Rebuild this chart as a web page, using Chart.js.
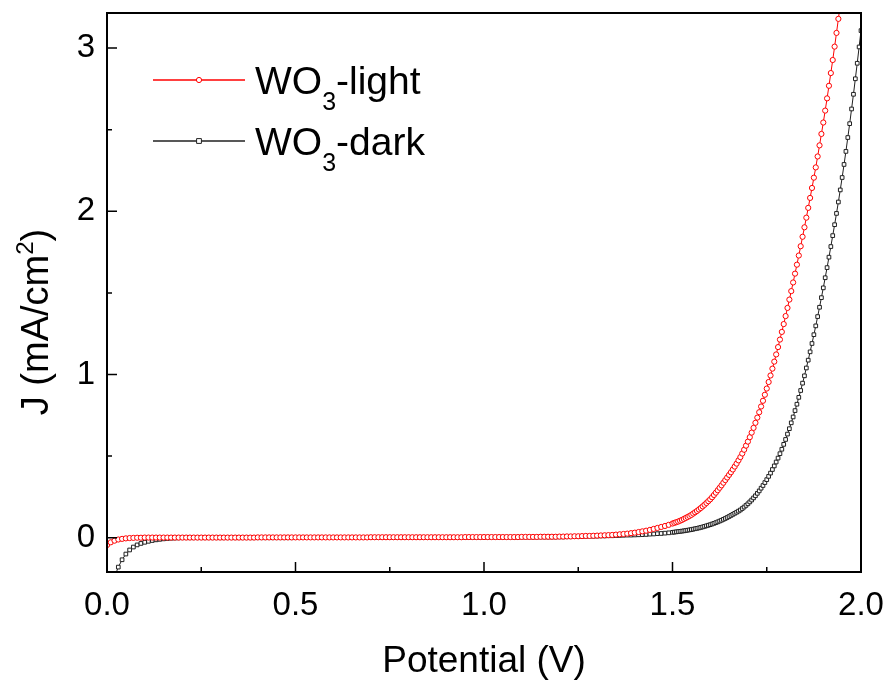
<!DOCTYPE html>
<html>
<head>
<meta charset="utf-8">
<script src="https://cdn.jsdelivr.net/npm/chart.js@4.4.1/dist/chart.umd.min.js"></script>
<style>
  html, body { margin: 0; padding: 0; background: #fff; }
  #wrap { width: 891px; height: 684px; }
</style>
</head>
<body>
<div id="wrap"><canvas id="jv" width="891" height="684"></canvas></div>
<script>
// potential sweep (V): 10 mV steps up to 1.49 V, 5 mV steps after
const potential = [
  0.00, 0.01, 0.02, 0.03, 0.04, 0.05, 0.06, 0.07, 0.08, 0.09,
  0.10, 0.11, 0.12, 0.13, 0.14, 0.15, 0.16, 0.17, 0.18, 0.19,
  0.20, 0.21, 0.22, 0.23, 0.24, 0.25, 0.26, 0.27, 0.28, 0.29,
  0.30, 0.31, 0.32, 0.33, 0.34, 0.35, 0.36, 0.37, 0.38, 0.39,
  0.40, 0.41, 0.42, 0.43, 0.44, 0.45, 0.46, 0.47, 0.48, 0.49,
  0.50, 0.51, 0.52, 0.53, 0.54, 0.55, 0.56, 0.57, 0.58, 0.59,
  0.60, 0.61, 0.62, 0.63, 0.64, 0.65, 0.66, 0.67, 0.68, 0.69,
  0.70, 0.71, 0.72, 0.73, 0.74, 0.75, 0.76, 0.77, 0.78, 0.79,
  0.80, 0.81, 0.82, 0.83, 0.84, 0.85, 0.86, 0.87, 0.88, 0.89,
  0.90, 0.91, 0.92, 0.93, 0.94, 0.95, 0.96, 0.97, 0.98, 0.99,
  1.00, 1.01, 1.02, 1.03, 1.04, 1.05, 1.06, 1.07, 1.08, 1.09,
  1.10, 1.11, 1.12, 1.13, 1.14, 1.15, 1.16, 1.17, 1.18, 1.19,
  1.20, 1.21, 1.22, 1.23, 1.24, 1.25, 1.26, 1.27, 1.28, 1.29,
  1.30, 1.31, 1.32, 1.33, 1.34, 1.35, 1.36, 1.37, 1.38, 1.39,
  1.40, 1.41, 1.42, 1.43, 1.44, 1.45, 1.46, 1.47, 1.48, 1.49,
  1.500, 1.505, 1.510, 1.515, 1.520, 1.525, 1.530, 1.535, 1.540, 1.545,
  1.550, 1.555, 1.560, 1.565, 1.570, 1.575, 1.580, 1.585, 1.590, 1.595,
  1.600, 1.605, 1.610, 1.615, 1.620, 1.625, 1.630, 1.635, 1.640, 1.645,
  1.650, 1.655, 1.660, 1.665, 1.670, 1.675, 1.680, 1.685, 1.690, 1.695,
  1.700, 1.705, 1.710, 1.715, 1.720, 1.725, 1.730, 1.735, 1.740, 1.745,
  1.750, 1.755, 1.760, 1.765, 1.770, 1.775, 1.780, 1.785, 1.790, 1.795,
  1.800, 1.805, 1.810, 1.815, 1.820, 1.825, 1.830, 1.835, 1.840, 1.845,
  1.850, 1.855, 1.860, 1.865, 1.870, 1.875, 1.880, 1.885, 1.890, 1.895,
  1.900, 1.905, 1.910, 1.915, 1.920, 1.925, 1.930, 1.935, 1.940, 1.945,
  1.950, 1.955, 1.960, 1.965, 1.970, 1.975, 1.980, 1.985, 1.990, 1.995,
  2.000
]

// current density under illumination (mA/cm2)
const jLight = [
  -0.045, -0.028, -0.018, -0.011, -0.007, -0.004, -0.002, -0.001, 0.000, 0.000,
  0.001, 0.001, 0.001, 0.001, 0.001, 0.001, 0.001, 0.001, 0.001, 0.001,
  0.001, 0.001, 0.001, 0.001, 0.001, 0.001, 0.001, 0.001, 0.001, 0.001,
  0.001, 0.001, 0.001, 0.001, 0.001, 0.001, 0.001, 0.001, 0.001, 0.001,
  0.002, 0.002, 0.002, 0.002, 0.002, 0.002, 0.002, 0.002, 0.002, 0.002,
  0.002, 0.002, 0.002, 0.002, 0.002, 0.002, 0.002, 0.002, 0.002, 0.002,
  0.002, 0.002, 0.002, 0.002, 0.002, 0.002, 0.002, 0.002, 0.002, 0.002,
  0.003, 0.003, 0.003, 0.003, 0.003, 0.003, 0.003, 0.003, 0.003, 0.003,
  0.003, 0.003, 0.003, 0.003, 0.003, 0.003, 0.003, 0.003, 0.003, 0.003,
  0.003, 0.003, 0.003, 0.003, 0.003, 0.004, 0.004, 0.004, 0.004, 0.004,
  0.004, 0.004, 0.004, 0.004, 0.004, 0.004, 0.004, 0.004, 0.004, 0.004,
  0.005, 0.005, 0.005, 0.005, 0.005, 0.006, 0.006, 0.006, 0.006, 0.006,
  0.007, 0.007, 0.008, 0.008, 0.009, 0.009, 0.010, 0.011, 0.011, 0.012,
  0.013, 0.014, 0.015, 0.016, 0.017, 0.019, 0.021, 0.023, 0.025, 0.028,
  0.031, 0.035, 0.039, 0.043, 0.048, 0.054, 0.060, 0.066, 0.072, 0.079,
  0.087, 0.091, 0.095, 0.099, 0.104, 0.109, 0.115, 0.121, 0.127, 0.133,
  0.140, 0.148, 0.156, 0.164, 0.173, 0.182, 0.192, 0.202, 0.213, 0.224,
  0.235, 0.248, 0.262, 0.276, 0.291, 0.306, 0.321, 0.337, 0.353, 0.369,
  0.385, 0.401, 0.418, 0.436, 0.454, 0.474, 0.494, 0.516, 0.539, 0.564,
  0.589, 0.616, 0.644, 0.673, 0.704, 0.736, 0.769, 0.804, 0.839, 0.876,
  0.914, 0.954, 0.994, 1.036, 1.079, 1.123, 1.168, 1.214, 1.261, 1.309,
  1.358, 1.408, 1.459, 1.511, 1.564, 1.618, 1.673, 1.729, 1.786, 1.844,
  1.902, 1.961, 2.021, 2.082, 2.143, 2.206, 2.269, 2.336, 2.404, 2.474,
  2.544, 2.617, 2.692, 2.769, 2.847, 2.927, 3.009, 3.093, 3.179, 3.266,
  3.354, 3.444, 3.534, 3.626, 3.719, 3.814, 3.909, 4.006, 4.104, 4.202,
  4.300
]

// current density in the dark (mA/cm2)
const jDark = [
  -0.400, -0.320, -0.240, -0.180, -0.135, -0.100, -0.075, -0.057, -0.044, -0.035,
  -0.028, -0.022, -0.017, -0.013, -0.010, -0.007, -0.005, -0.003, -0.002, -0.001,
  0.000, 0.000, 0.000, 0.000, 0.000, 0.000, 0.000, 0.000, 0.000, 0.000,
  0.000, 0.000, 0.000, 0.000, 0.000, 0.000, 0.000, 0.000, 0.000, 0.000,
  0.000, 0.000, 0.000, 0.000, 0.000, 0.000, 0.000, 0.000, 0.000, 0.000,
  0.001, 0.001, 0.001, 0.001, 0.001, 0.001, 0.001, 0.001, 0.001, 0.001,
  0.001, 0.001, 0.001, 0.001, 0.001, 0.001, 0.001, 0.001, 0.001, 0.001,
  0.001, 0.001, 0.001, 0.001, 0.001, 0.001, 0.001, 0.001, 0.001, 0.001,
  0.002, 0.002, 0.002, 0.002, 0.002, 0.002, 0.002, 0.002, 0.002, 0.002,
  0.002, 0.002, 0.002, 0.002, 0.002, 0.002, 0.002, 0.002, 0.002, 0.002,
  0.003, 0.003, 0.003, 0.003, 0.003, 0.003, 0.003, 0.003, 0.003, 0.003,
  0.003, 0.003, 0.003, 0.003, 0.003, 0.004, 0.004, 0.004, 0.004, 0.004,
  0.005, 0.005, 0.006, 0.006, 0.007, 0.007, 0.008, 0.008, 0.009, 0.009,
  0.010, 0.011, 0.011, 0.012, 0.012, 0.013, 0.014, 0.015, 0.016, 0.016,
  0.017, 0.018, 0.019, 0.020, 0.022, 0.023, 0.025, 0.026, 0.028, 0.030,
  0.033, 0.0345, 0.036, 0.0375, 0.039, 0.0405, 0.042, 0.044, 0.046, 0.048,
  0.050, 0.0525, 0.055, 0.0575, 0.060, 0.063, 0.066, 0.0695, 0.073, 0.0765,
  0.080, 0.084, 0.088, 0.0925, 0.097, 0.102, 0.107, 0.1125, 0.118, 0.124,
  0.130, 0.1365, 0.143, 0.1495, 0.156, 0.163, 0.170, 0.179, 0.188, 0.198,
  0.208, 0.2195, 0.231, 0.244, 0.257, 0.272, 0.287, 0.3035, 0.320, 0.338,
  0.356, 0.376, 0.396, 0.418, 0.440, 0.464, 0.488, 0.515, 0.542, 0.572,
  0.602, 0.635, 0.668, 0.704, 0.740, 0.779, 0.818, 0.860, 0.902, 0.947,
  0.992, 1.040, 1.088, 1.139, 1.190, 1.244, 1.298, 1.355, 1.412, 1.471,
  1.531, 1.593, 1.655, 1.719, 1.784, 1.851, 1.918, 1.987, 2.057, 2.131,
  2.207, 2.287, 2.367, 2.452, 2.537, 2.627, 2.717, 2.812, 2.907, 3.007,
  3.107
]

const xMajor = [0, 0.5, 1.0, 1.5, 2.0]
const xMinor = [0.25, 0.75, 1.25, 1.75]
const yMajor = [0, 1, 2, 3]
const yMinor = [0.5, 1.5, 2.5]

const FONT = "'Liberation Sans', Arial, sans-serif"
const RED = '#ff0000'
const DARK = '#202020'

const toPoints = (ys) => potential.map((v, i) => ({ x: v, y: ys[i] }))

// draws runs of text where some parts sit lower (sub) or higher (sup)
function richWidth(ctx, parts, size) {
  let w = 0
  parts.forEach((p) => {
    ctx.font = `${p.sub || p.sup ? Math.round(size * 0.64) : size}px ${FONT}`
    w += ctx.measureText(p.t).width
  })
  return w
}

function drawRich(ctx, parts, x, y, size) {
  ctx.textAlign = 'left'
  ctx.textBaseline = 'alphabetic'
  let cx = x
  parts.forEach((p) => {
    const small = p.sub || p.sup
    ctx.font = `${small ? Math.round(size * 0.64) : size}px ${FONT}`
    const dy = p.sub ? size * 0.42 : p.sup ? -size * 0.4 : 0
    ctx.fillText(p.t, cx, y + dy)
    cx += ctx.measureText(p.t).width
  })
}

// keep the plot box where it is, whatever size the tick labels have
const noLabelPadding = (s) => {
  s.paddingTop = 0
  s.paddingBottom = 0
  s.paddingLeft = 0
  s.paddingRight = 0
}

const frame = {
  id: 'frame',
  afterDraw(chart) {
    const {
      ctx,
      chartArea: { left, right, top, bottom },
      scales: { x, y },
    } = chart
    ctx.save()
    ctx.strokeStyle = '#000'
    ctx.lineWidth = 1.5
    ctx.beginPath()
    xMajor.forEach((v) => {
      const p = x.getPixelForValue(v)
      ctx.moveTo(p, bottom)
      ctx.lineTo(p, bottom - 10)
    })
    xMinor.forEach((v) => {
      const p = x.getPixelForValue(v)
      ctx.moveTo(p, bottom)
      ctx.lineTo(p, bottom - 5)
    })
    yMajor.forEach((v) => {
      const p = y.getPixelForValue(v)
      ctx.moveTo(left, p)
      ctx.lineTo(left + 10, p)
    })
    yMinor.forEach((v) => {
      const p = y.getPixelForValue(v)
      ctx.moveTo(left, p)
      ctx.lineTo(left + 5, p)
    })
    ctx.stroke()
    ctx.lineWidth = 2
    ctx.strokeRect(left, top, right - left, bottom - top)
    ctx.restore()
  },
}

const axisTitles = {
  id: 'axisTitles',
  afterDraw(chart) {
    const { ctx, chartArea } = chart
    ctx.save()
    ctx.fillStyle = '#000'
    ctx.font = `37px ${FONT}`
    ctx.textAlign = 'center'
    ctx.textBaseline = 'alphabetic'
    ctx.fillText('Potential (V)', (chartArea.left + chartArea.right) / 2, 672)

    const yTitle = [{ t: 'J (mA/cm' }, { t: '2', sup: true }, { t: ')' }]
    const w = richWidth(ctx, yTitle, 38)
    ctx.translate(48, 322)
    ctx.rotate(-Math.PI / 2)
    drawRich(ctx, yTitle, -w / 2, 0, 38)
    ctx.restore()
  },
}

const legendBox = {
  id: 'legendBox',
  afterDraw(chart) {
    const { ctx, chartArea: { left, top } } = chart
    const rows = [
      { parts: [{ t: 'WO' }, { t: '3', sub: true }, { t: '-light' }], ds: 0, y: top + 67 },
      { parts: [{ t: 'WO' }, { t: '3', sub: true }, { t: '-dark' }], ds: 1, y: top + 128 },
    ]
    ctx.save()
    rows.forEach((r) => {
      const ds = chart.data.datasets[r.ds]
      ctx.strokeStyle = ds.borderColor
      ctx.lineWidth = 1.5
      ctx.beginPath()
      ctx.moveTo(left + 46, r.y)
      ctx.lineTo(left + 138, r.y)
      ctx.stroke()
      ctx.fillStyle = '#fff'
      ctx.strokeStyle = ds.pointBorderColor
      ctx.lineWidth = 1
      ctx.beginPath()
      if (ds.pointStyle === 'rect') {
        ctx.rect(left + 92 - 2.4, r.y - 2.4, 4.8, 4.8)
      } else {
        ctx.arc(left + 92, r.y, 2.6, 0, Math.PI * 2)
      }
      ctx.fill()
      ctx.stroke()
      ctx.fillStyle = '#000'
      drawRich(ctx, r.parts, left + 148, r.y + 14, 39)
    })
    ctx.restore()
  },
}

const tickFont = { family: FONT, size: 33 }

new Chart(document.getElementById('jv'), {
  type: 'line',
  data: {
    datasets: [
      {
        label: 'WO3-light',
        data: toPoints(jLight),
        borderColor: RED,
        borderWidth: 1,
        pointStyle: 'circle',
        pointRadius: 2.6,
        pointBorderWidth: 1,
        pointBorderColor: RED,
        pointBackgroundColor: '#fff',
        clip: 0,
      },
      {
        label: 'WO3-dark',
        data: toPoints(jDark),
        borderColor: DARK,
        borderWidth: 1,
        pointStyle: 'rect',
        pointRadius: 2.6,
        pointBorderWidth: 1,
        pointBorderColor: DARK,
        pointBackgroundColor: '#fff',
        clip: 0,
      },
    ],
  },
  options: {
    responsive: false,
    animation: false,
    devicePixelRatio: 1,
    layout: { padding: { top: 13, right: 30, left: 0, bottom: 0 } },
    plugins: {
      legend: { display: false },
      tooltip: { enabled: false },
    },
    scales: {
      x: {
        type: 'linear',
        min: 0,
        max: 2,
        afterBuildTicks: (s) => {
          s.ticks = xMajor.map((value) => ({ value }))
        },
        afterFit: (s) => {
          s.height = 112
          noLabelPadding(s)
        },
        grid: { display: false, drawTicks: false },
        border: { display: false },
        ticks: {
          font: tickFont,
          color: '#000',
          padding: 14,
          autoSkip: false,
          maxRotation: 0,
          callback: (v) => v.toFixed(1),
        },
      },
      y: {
        type: 'linear',
        min: -0.21,
        max: 3.215,
        afterBuildTicks: (s) => {
          s.ticks = yMajor.map((value) => ({ value }))
        },
        afterFit: (s) => {
          s.width = 107
          noLabelPadding(s)
        },
        grid: { display: false, drawTicks: false },
        border: { display: false },
        ticks: {
          font: tickFont,
          color: '#000',
          padding: 12,
          callback: (v) => String(v),
        },
      },
    },
  },
  plugins: [frame, axisTitles, legendBox],
})
</script>
</body>
</html>
